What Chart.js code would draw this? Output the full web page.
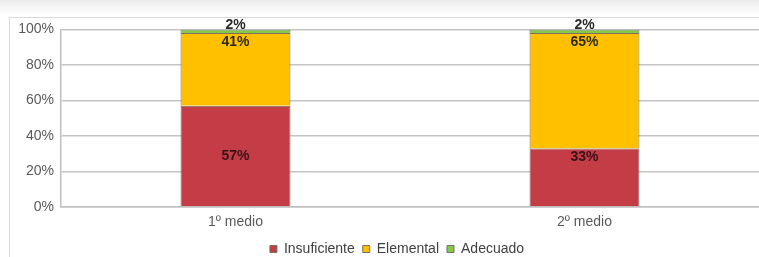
<!DOCTYPE html>
<html>
<head>
<meta charset="utf-8">
<script src="https://cdn.jsdelivr.net/npm/chart.js@4.4.1/dist/chart.umd.min.js"></script>
<style>
body { margin: 0; width: 759px; height: 257px; overflow: hidden; background: #fff; position: relative; }
#topShade { position: absolute; left: 0; top: 0; width: 759px; height: 15px; background: linear-gradient(#ebebeb, #ffffff); }
#frame { position: absolute; left: 9px; top: 17px; width: 760px; height: 260px; border-left: 1px solid #d9d9d9; border-top: 1px solid #d9d9d9; }
#chart { position: absolute; left: 10px; top: 14px; }
</style>
</head>
<body>
<div id="topShade"></div>
<div id="frame"></div>
<canvas id="chart" width="774" height="252"></canvas>
<script>
// chart data
const categories = ['1º medio', '2º medio'];
const insuficiente = [57, 33];
const elemental = [41, 65];
const adecuado = [2, 2];
const yTickStep = 20;

// where the value label sits on each bar: center / inside top / above
const insuficienteLabelPos = ['center', 'inside'];
const elementalLabelPos = ['inside', 'inside'];
const adecuadoLabelPos = ['above', 'above'];

const FONT = '"Liberation Sans", Arial, sans-serif';

// draw the % labels on the bars
const barLabels = {
  id: 'barLabels',
  afterDatasetsDraw(chart) {
    const ctx = chart.ctx;
    ctx.save();
    ctx.font = 'bold 14px ' + FONT;
    ctx.textAlign = 'center';
    ctx.textBaseline = 'middle';
    chart.data.datasets.forEach((ds, di) => {
      const meta = chart.getDatasetMeta(di);
      meta.data.forEach((bar, i) => {
        const top = Math.min(bar.y, bar.base);
        const pos = ds.labelPos[i];
        let y = (bar.y + bar.base) / 2;
        if (pos === 'inside') y = top + 9;
        if (pos === 'above') y = top - 4;
        ctx.fillStyle = ds.labelColor;
        ctx.fillText(ds.data[i] + '%', bar.x, y);
      });
    });
    ctx.restore();
  }
};

new Chart(document.getElementById('chart'), {
  type: 'bar',
  data: {
    labels: categories,
    datasets: [
      { label: 'Insuficiente', data: insuficiente, backgroundColor: '#C43C46', labelPos: insuficienteLabelPos, labelColor: '#3a1216' },
      { label: 'Elemental', data: elemental, backgroundColor: '#FFC000', labelPos: elementalLabelPos, labelColor: '#2e2a10' },
      { label: 'Adecuado', data: adecuado, backgroundColor: '#86C84A', labelPos: adecuadoLabelPos, labelColor: '#2a2a2a' }
    ].map(d => Object.assign(d, { borderColor: '#7d6e62', borderWidth: 1, barPercentage: 0.315, categoryPercentage: 1 }))
  },
  options: {
    responsive: false,
    animation: false,
    devicePixelRatio: 1,
    layout: { padding: { left: 0, right: 0, top: 3, bottom: 0 } },
    plugins: {
      tooltip: { enabled: false },
      legend: {
        position: 'bottom',
        labels: {
          color: '#404040',
          font: { family: FONT, size: 14 },
          boxWidth: 7,
          boxHeight: 7,
          padding: 8
        }
      }
    },
    scales: {
      x: {
        stacked: true,
        grid: { display: false, drawTicks: false },
        border: { display: true, color: '#bfbfbf', width: 1.5 },
        ticks: { color: '#595959', font: { family: FONT, size: 14 }, padding: 7 },
        afterFit(scale) { scale.height = 27; }
      },
      y: {
        stacked: true,
        min: 0,
        max: 100,
        grid: { color: '#c4c4c4', lineWidth: 1.5, drawTicks: false },
        border: { display: true, color: '#bfbfbf', width: 1.5 },
        ticks: {
          stepSize: yTickStep,
          color: '#595959',
          font: { family: FONT, size: 14 },
          padding: 7,
          callback: v => v + '%'
        },
        afterFit(scale) { scale.width = 51; }
      },
      // empty spacer on the right: the plot is cut off by the window edge
      spacer: {
        position: 'right',
        grid: { display: false, drawTicks: false },
        border: { display: false },
        ticks: { display: false },
        afterFit(scale) { scale.width = 25; }
      }
    }
  },
  plugins: [barLabels]
});
</script>
</body>
</html>
